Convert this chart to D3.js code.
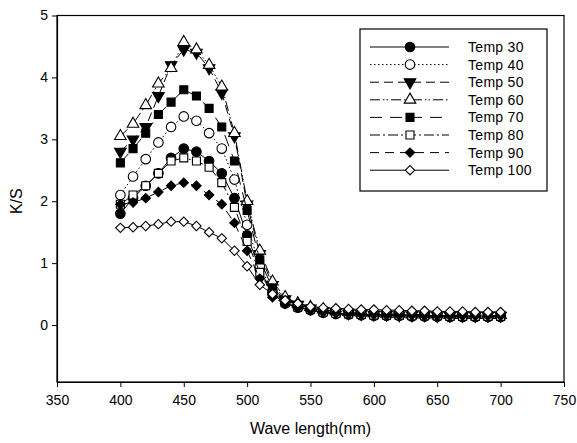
<!DOCTYPE html>
<html>
<head>
<meta charset="utf-8">
<script src="https://cdn.jsdelivr.net/npm/d3@7"></script>
<style>
  body { margin: 0; background: #fff; }
  text { font-family: "Liberation Sans", Arial, sans-serif; }
</style>
</head>
<body>
<div id="chart-area"></div>
<script>
// wavelengths (nm)
var wave = [400,410,420,430,440,450,460,470,480,490,500,510,520,530,540,550,
            560,570,580,590,600,610,620,630,640,650,660,670,680,690,700]

var temp30  = [1.80,2.05,2.25,2.45,2.70,2.85,2.80,2.65,2.45,2.05,1.45,0.90,0.50,0.35,0.28,0.24,
               0.20,0.18,0.17,0.16,0.15,0.15,0.15,0.14,0.14,0.14,0.13,0.13,0.13,0.13,0.13]
var temp40  = [2.10,2.40,2.68,2.95,3.20,3.37,3.30,3.10,2.85,2.35,1.62,0.95,0.55,0.38,0.30,0.25,
               0.21,0.19,0.18,0.17,0.16,0.16,0.15,0.15,0.15,0.14,0.14,0.14,0.14,0.14,0.14]
var temp50  = [2.80,3.00,3.20,3.70,4.20,4.45,4.40,4.15,3.75,3.05,1.95,1.15,0.65,0.42,0.33,0.27,
               0.23,0.21,0.19,0.18,0.17,0.17,0.16,0.16,0.16,0.15,0.15,0.15,0.15,0.15,0.15]
var temp60  = [3.05,3.25,3.55,3.90,4.15,4.57,4.45,4.20,3.85,3.10,2.00,1.20,0.70,0.45,0.35,0.29,
               0.25,0.22,0.21,0.20,0.19,0.18,0.18,0.17,0.17,0.17,0.16,0.16,0.16,0.16,0.16]
var temp70  = [2.62,2.85,3.10,3.40,3.60,3.80,3.70,3.50,3.20,2.65,1.85,1.05,0.60,0.40,0.32,0.26,
               0.22,0.20,0.19,0.18,0.17,0.17,0.16,0.16,0.16,0.15,0.15,0.15,0.15,0.15,0.15]
var temp80  = [1.95,2.10,2.25,2.45,2.65,2.70,2.65,2.55,2.30,1.90,1.35,0.85,0.50,0.36,0.29,0.25,
               0.21,0.19,0.18,0.17,0.16,0.16,0.16,0.15,0.15,0.15,0.14,0.14,0.14,0.14,0.14]
var temp90  = [1.95,1.98,2.05,2.15,2.25,2.30,2.25,2.10,1.95,1.65,1.20,0.75,0.45,0.34,0.28,0.24,
               0.21,0.19,0.18,0.17,0.17,0.16,0.16,0.16,0.15,0.15,0.15,0.15,0.15,0.15,0.15]
var temp100 = [1.57,1.58,1.60,1.63,1.67,1.67,1.60,1.50,1.40,1.20,0.95,0.65,0.50,0.40,0.35,0.30,
               0.28,0.27,0.26,0.25,0.25,0.24,0.24,0.23,0.23,0.22,0.22,0.22,0.21,0.21,0.21]

var names = ["Temp 30","Temp 40","Temp 50","Temp 60","Temp 70","Temp 80","Temp 90","Temp 100"]
var xTicks = [350,400,450,500,550,600,650,700,750]
var yTicks = [0,1,2,3,4,5]

var seriesData = [temp30,temp40,temp50,temp60,temp70,temp80,temp90,temp100]
var dashes = [null, "1.5,2.5", "9,5", "10,3,1.5,2,1.5,3", "12,8", "10,3,2,3", "9,6", null]
var symbols = [d3.symbolCircle, d3.symbolCircle, d3.symbolTriangle, d3.symbolTriangle,
               d3.symbolSquare, d3.symbolSquare, d3.symbolSquare, d3.symbolSquare]
var filled = [true, false, true, false, true, false, true, false]
var rot = [0, 0, 180, 0, 0, 0, 45, 45]
var sizes = [72, 72, 58, 58, 64, 64, 44, 44]

var width = 577, height = 443
var svg = d3.select("#chart-area").append("svg")
    .attr("width", width).attr("height", height)

var x = d3.scaleLinear().domain([350, 750]).range([57, 564])
var y = d3.scaleLinear().domain([-0.92, 5]).range([382, 15.5])

// frame
svg.append("rect")
    .attr("x", x(350)).attr("y", y(5))
    .attr("width", x(750) - x(350)).attr("height", y(-0.92) - y(5))
    .attr("fill", "none").attr("stroke", "#000").attr("stroke-width", 1.2)

var xAxis = svg.append("g")
    .attr("transform", `translate(0, ${y(-0.92)})`)
    .call(d3.axisBottom(x).tickValues(xTicks).tickSize(5).tickSizeOuter(0).tickFormat(d3.format("d")))
var yAxis = svg.append("g")
    .attr("transform", `translate(${x(350)}, 0)`)
    .call(d3.axisLeft(y).tickValues(yTicks).tickSize(5).tickSizeOuter(0).tickFormat(d3.format("d")))
;[xAxis, yAxis].forEach((a) => {
    a.select(".domain").attr("stroke-width", 1.2)
    a.selectAll("text").attr("font-size", "14px").attr("fill", "#000")
        .style("font-family", '"Liberation Sans", Arial, sans-serif')
})
xAxis.selectAll("text").attr("dy", "1.1em")
yAxis.selectAll("text").attr("x", -9)

svg.append("text")
    .attr("x", (x(350) + x(750)) / 2).attr("y", 434)
    .attr("text-anchor", "middle").attr("font-size", "16px")
    .text("Wave length(nm)")
svg.append("text")
    .attr("transform", `translate(22, ${y(2)}) rotate(-90)`)
    .attr("text-anchor", "middle").attr("font-size", "16px")
    .text("K/S")

var line = d3.line().x((d, i) => x(wave[i])).y((d) => y(d))

function marker(sel, k, cx, cy) {
    sel.append("path")
        .attr("d", d3.symbol().type(symbols[k]).size(sizes[k]))
        .attr("transform", `translate(${cx}, ${cy}) rotate(${rot[k]})`)
        .attr("fill", filled[k] ? "#000" : "#fff")
        .attr("stroke", "#000").attr("stroke-width", 1.1)
}

seriesData.forEach((vals, k) => {
    var g = svg.append("g")
    g.append("path").datum(vals)
        .attr("d", line)
        .attr("fill", "none").attr("stroke", "#000").attr("stroke-width", 1)
        .attr("stroke-dasharray", dashes[k])
    vals.forEach((v, i) => marker(g, k, x(wave[i]), y(v)))
})

// legend
var lg = svg.append("g")
lg.append("rect")
    .attr("x", 360).attr("y", 29).attr("width", 187).attr("height", 162)
    .attr("fill", "#fff").attr("stroke", "#000").attr("stroke-width", 1.2)
names.forEach((n, k) => {
    var ly = 47 + k * 17.6
    lg.append("line")
        .attr("x1", 370).attr("x2", 449).attr("y1", ly).attr("y2", ly)
        .attr("stroke", "#000").attr("stroke-width", 1)
        .attr("stroke-dasharray", dashes[k])
    marker(lg, k, 410, ly)
    lg.append("text")
        .attr("x", 468).attr("y", ly).attr("dy", "0.35em")
        .attr("font-size", "14px").attr("letter-spacing", "0.3px").text(n)
})
</script>
</body>
</html>
